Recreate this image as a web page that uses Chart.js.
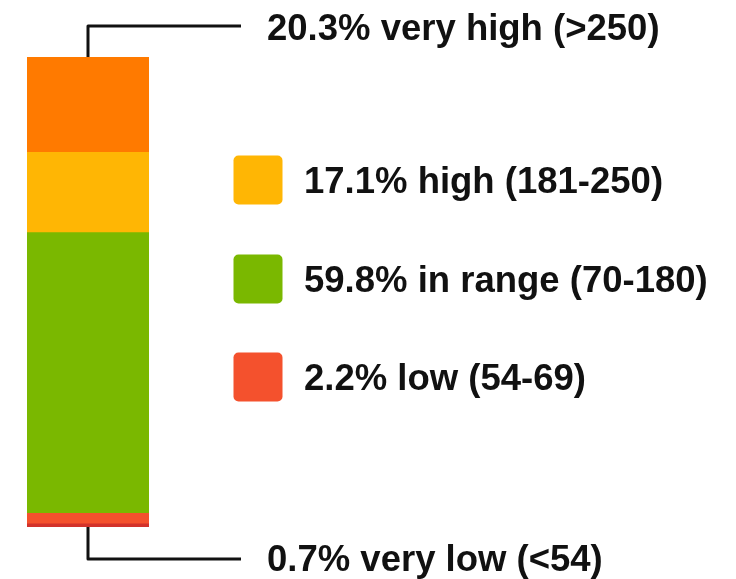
<!DOCTYPE html>
<html>
<head>
<meta charset="utf-8">
<style>
  html, body { margin: 0; padding: 0; background: #ffffff; }
  #wrap { width: 736px; height: 579px; position: relative; }
</style>
<script src="https://cdn.jsdelivr.net/npm/chart.js@4/dist/chart.umd.min.js"></script>
</head>
<body>
<div id="wrap"><canvas id="tir" width="736" height="579"></canvas></div>
<script>
// Time-in-range bands, bottom of the stack first
const bandNames = ['very low (<54)', 'low (54-69)', 'in range (70-180)', 'high (181-250)', 'very high (>250)'];
const bandPercents = [0.7, 2.2, 59.8, 17.1, 20.3];
const bandColors = ['#D2322B', '#F4512D', '#7AB800', '#FFB604', '#FF7A00'];

// Bands shown with a colour key on the right (top to bottom)
const keyedBands = [3, 2, 1];
const keyRowY = [180, 279, 377];

const FONT = 'bold 36.5px "Liberation Sans", Arial, sans-serif';
const INK = '#111111';

const labelFor = i => bandPercents[i].toFixed(1) + '% ' + bandNames[i];

const annotate = {
  id: 'annotate',
  afterDraw(chart) {
    const ctx = chart.ctx;
    const y = chart.scales.y;
    const meta = chart.getDatasetMeta(0);
    const barX = meta.data[0].x;
    const total = bandPercents.reduce((a, b) => a + b, 0);
    const topY = y.getPixelForValue(total);
    const botY = y.getPixelForValue(0);

    ctx.save();
    ctx.font = FONT;
    ctx.fillStyle = INK;
    ctx.textBaseline = 'alphabetic';
    ctx.textAlign = 'left';

    // Callout connectors for the two extreme bands
    ctx.strokeStyle = INK;
    ctx.lineWidth = 3;
    ctx.lineJoin = 'round';
    const lineEnd = 241;
    const upperY = 26, lowerY = 559;
    ctx.beginPath();
    ctx.moveTo(barX, topY);
    ctx.lineTo(barX, upperY);
    ctx.lineTo(lineEnd, upperY);
    ctx.stroke();
    ctx.beginPath();
    ctx.moveTo(barX, botY);
    ctx.lineTo(barX, lowerY);
    ctx.lineTo(lineEnd, lowerY);
    ctx.stroke();

    ctx.fillText(labelFor(4), 267, upperY + 14);
    ctx.fillText(labelFor(0), 267, lowerY + 11.5);

    // Colour key for the middle bands
    keyedBands.forEach((bi, r) => {
      const cy = keyRowY[r];
      ctx.fillStyle = bandColors[bi];
      ctx.beginPath();
      ctx.roundRect(233.5, cy - 24.5, 49, 49, 5);
      ctx.fill();
      ctx.fillStyle = INK;
      ctx.fillText(labelFor(bi), 304, cy + 12.5);
    });
    ctx.restore();
  }
};

new Chart(document.getElementById('tir'), {
  type: 'bar',
  data: {
    labels: [''],
    datasets: bandNames.map((name, i) => ({
      label: name,
      data: [bandPercents[i]],
      backgroundColor: bandColors[i],
      borderWidth: 0,
      categoryPercentage: 1,
      barPercentage: 1
    }))
  },
  options: {
    responsive: false,
    animation: false,
    events: [],
    layout: { padding: { left: 27, right: 587, top: 57, bottom: 52 } },
    plugins: { legend: { display: false }, tooltip: { enabled: false } },
    scales: {
      x: { stacked: true, display: false },
      y: { stacked: true, display: false, min: 0, max: 100.1 }
    }
  },
  plugins: [annotate]
});
</script>
</body>
</html>
